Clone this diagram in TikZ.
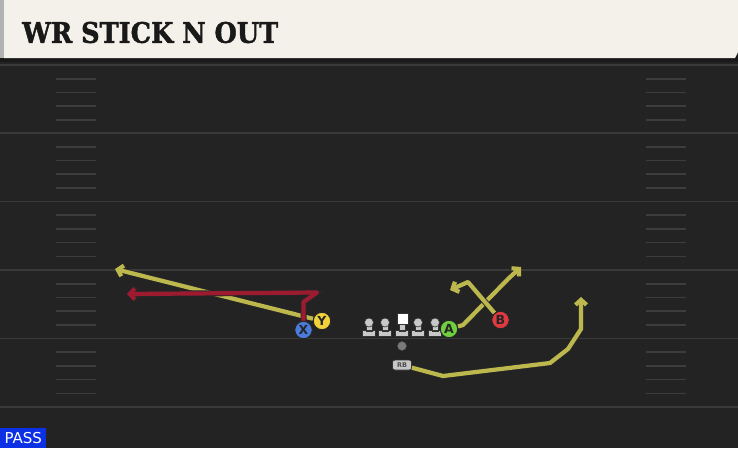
\documentclass[tikz,border=0pt]{standalone}
\usepackage{graphicx}
\usepackage{fontspec}
\setsansfont{DejaVu Sans}
\newfontfamily\titlefont{DejaVu Serif}[BoldFeatures={FakeBold=1.6}]
\usepackage{tikz}
\usetikzlibrary{arrows.meta,backgrounds,positioning}
\definecolor{field}{HTML}{232323}
\definecolor{yardline}{HTML}{3A3A3A}
\definecolor{hashmark}{HTML}{3D3D3D}
\definecolor{banner}{HTML}{F4F1EA}
\definecolor{routeyellow}{HTML}{BDB84E}
\definecolor{routered}{HTML}{9C1B31}
\definecolor{btnX}{HTML}{4A7BDB}
\definecolor{btnY}{HTML}{F2D23A}
\definecolor{btnA}{HTML}{6FCF3E}
\definecolor{btnB}{HTML}{E0393F}
\definecolor{olgray}{HTML}{C8C8C8}
\definecolor{ballgray}{HTML}{7A7A7A}
\definecolor{passblue}{HTML}{0C30E4}

\begin{document}
\begin{tikzpicture}[x=1pt,y=-1pt]
  \tikzstyle{button} = [circle,draw=black!85,line width=1pt,minimum size=17.5pt,inner sep=0pt,
    font=\sffamily\bfseries\fontsize{12.5}{12.5}\selectfont,text=black!85];
  \tikzstyle{olhead} = [circle,fill=olgray,draw=black!80,line width=.6pt,minimum size=9pt,inner sep=0pt];
  \tikzstyle{lineman} = [fill=olgray,draw=black!80,line width=.6pt];
  \tikzstyle{yard} = [draw=yardline,line width=1.8pt];
  \tikzstyle{hash} = [draw=hashmark,line width=1.6pt];
  \tikzset{route/.style={draw=#1,line width=4.2pt,line join=round,-{Straight Barb[length=5pt,width=11pt]},
      preaction={draw=black!85,line width=6pt,-{Straight Barb[length=5.5pt,width=12.5pt]}}}};
  \useasboundingbox (0,0) rectangle (738,448);
  \scoped[on background layer]{
    \fill[field] (0,0) rectangle (738,448);
    \fill[black!90] (0,56) rectangle (738,62);
    \fill[banner] (4,0) -- (738,0) -- (738,52) -- (735,58) -- (4,58) -- cycle;
    \fill[gray!60] (0,0) rectangle (4,58);
    \draw[yard] (0,65) -- (738,65);
    \foreach \y in {133,201.5,270,338.5,407} \draw[yard] (0,\y) -- (738,\y);
    \foreach \y in {65,133,201.5,270,338.5} \foreach \k in {1,...,4} {
      \draw[hash] (56,{\y+13.7*\k}) -- (96,{\y+13.7*\k});
      \draw[hash] (646,{\y+13.7*\k}) -- (686,{\y+13.7*\k});
    }
  };
  \node[anchor=west,inner sep=0pt,text=black!90] (title) at (22,32.5)
    {\resizebox{256pt}{21pt}{\titlefont\bfseries WR STICK N OUT}};
  \node[fill=passblue,anchor=south west,minimum width=46pt,minimum height=20pt,inner sep=0pt,
    text=white,font=\sffamily\fontsize{15}{15}\selectfont] (pass) at (0,448) {PASS};
  \foreach \n/\x in {lt/369,lg/385,rg/418,rt/435} {
    \draw[lineman] (\x-3,324) rectangle (\x+3,331) (\x-6.5,330.5) rectangle (\x+6.5,336);
    \node[olhead] (\n) at (\x,322.5) {};
  }
  \draw[lineman] (399,322) rectangle (405,331) (395.5,330.5) rectangle (408.5,336);
  \node[fill=white,draw=black!80,line width=.6pt,minimum size=11pt,inner sep=0pt] (c) at (402.5,318.3) {};
  \node[circle,fill=ballgray,draw=black!70,line width=.5pt,minimum size=9pt,inner sep=0pt] (ball) at (402,346) {};
  \node[rounded corners=2.5pt,fill=olgray,draw=black!80,line width=.6pt,minimum width=19pt,minimum height=10pt,
    inner sep=0pt,font=\sffamily\bfseries\fontsize{6.5}{6.5}\selectfont,text=black!70] (rb) at (402,365) {RB};
  \node[button,fill=btnX] (X) at (303.5,330) {X};
  \node[button,fill=btnY] (Y) at (322,321) {Y};
  \node[button,fill=btnA] (A) at (449,329) {A};
  \node[button,fill=btnB] (B) at (500.5,320) {B};
  \coordinate (yEnd) at (115,269);
  \coordinate (xEnd) at (127,294);
  \coordinate (aEnd) at (521,267);
  \coordinate (bEnd) at (450,290);
  \coordinate (rbEnd) at (581,297);
  \scoped[on background layer]{
    \draw[route=routeyellow] (Y) -- (yEnd);
    \draw[route=routered] (X) -- (303.5,302) -- (317,292.5) -- (xEnd);
    \draw[route=routeyellow] (A) -- (463,325) -- (508,279) -- (aEnd);
    \draw[route=routeyellow] (B) -- (468,282) -- (bEnd);
    \draw[route=routeyellow] (rb) -- (443,376) -- (550,363) -- (568,349) -- (581,329) -- (rbEnd);
  };
\end{tikzpicture}
\end{document}
